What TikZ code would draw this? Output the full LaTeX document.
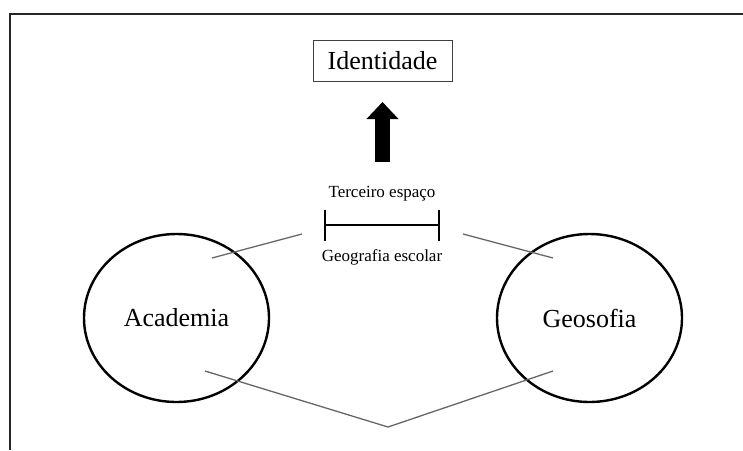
\documentclass[tikz,border=0pt]{standalone}
\usepackage{fontspec}
\setmainfont{Liberation Serif}
\usetikzlibrary{arrows.meta,positioning,shapes.geometric}

\begin{document}
\begin{tikzpicture}[x=1pt,y=-1pt,
  field/.style={draw, ellipse, line width=2.4pt, minimum width=185pt, minimum height=168pt, inner sep=0pt, font=\fontsize{26}{30}\selectfont},
  labelbox/.style={draw=black!75, line width=0.9pt, minimum width=139pt, minimum height=41pt, inner sep=0pt, font=\fontsize{26}{30}\selectfont},
  small/.style={inner sep=0pt, font=\fontsize{17}{20}\selectfont},
  link/.style={draw=black!60, line width=1.3pt},
  bracket/.style={draw, line width=2pt}]

\useasboundingbox (0,0) rectangle (743,450);

% outer frame (cut at right and bottom)
\draw[line width=1.6pt, black!85] (10,450) -- (10,14) -- (743,14);

% top box and arrow
\node[labelbox] (identidade) at (382.5,60.5) {Identidade};
\coordinate (arrowFoot) at (382.5,162);
\coordinate (arrowTip) at (382.5,102);
\draw[line width=15pt, -{Triangle[length=17pt,width=31pt]}] (arrowFoot) -- (arrowTip);

% third space
\node[small] (terceiro) at (382,194) {Terceiro espaço};
\node[small] (escolar) at (382,257) {Geografia escolar};
\coordinate (brL) at (325,225);
\coordinate (brR) at (439,225);
\draw[bracket] (brL) -- (brR);
\draw[bracket] ([yshift=15.5pt]brL) -- ([yshift=-16pt]brL);
\draw[bracket] ([yshift=15.5pt]brR) -- ([yshift=-16pt]brR);

% the two fields
\node[field] (academia) at (176.5,318) {Academia};
\node[field] (geosofia) at (589.5,318) {Geosofia};

% links
\coordinate (acadUp) at (212,258);
\coordinate (acadLow) at (205,371);
\coordinate (geoUp) at (553,258);
\coordinate (geoLow) at (553,371);
\coordinate (linkL) at (302,234);
\coordinate (linkR) at (463,234);
\coordinate (meet) at (388,427);
\draw[link] (acadUp) -- (linkL);
\draw[link] (linkR) -- (geoUp);
\draw[link] (acadLow) -- (meet) -- (geoLow);

\end{tikzpicture}
\end{document}
